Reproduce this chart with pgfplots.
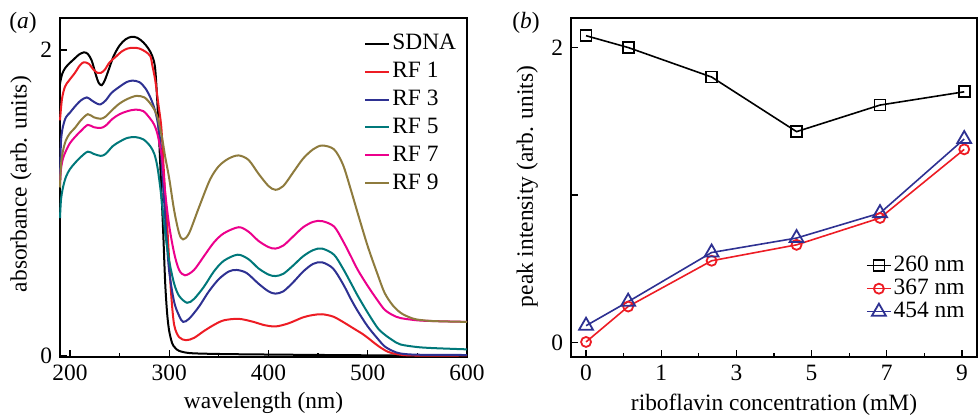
\documentclass[border=0pt]{standalone}
\usepackage{fontspec}
\setmainfont{Liberation Serif}
\usepackage{pgfplots}
\usepackage{pgfplotstable}
\pgfplotsset{compat=1.18}

\definecolor{cred}{HTML}{ED1C24}
\definecolor{cblue}{HTML}{2E3192}
\definecolor{cteal}{HTML}{00787A}
\definecolor{cmag}{HTML}{EC008C}
\definecolor{colive}{HTML}{8E7B3D}

\pgfplotstableread{
x y
190 1.78
192 1.84
195 1.88
199 1.91
204 1.94
209 1.97
214 1.985
218 1.975
222 1.93
226 1.84
229 1.785
232 1.77
235 1.80
239 1.87
244 1.96
250 2.03
256 2.07
262 2.087
268 2.08
274 2.05
279 2.01
283 1.96
286 1.87
289 1.54
292 1.10
294 0.80
296 0.47
298 0.27
300 0.16
303 0.08
306 0.05
310 0.03
320 0.016
340 0.011
370 0.008
420 0.005
480 0.002
540 0.0
600 0.0
}\sdna

\pgfplotstableread{
x y
190 1.54
192 1.68
195 1.76
199 1.80
205 1.85
210 1.90
214 1.92
219 1.91
224 1.87
228 1.85
231 1.85
235 1.87
240 1.92
246 1.955
252 1.99
258 2.01
264 2.015
270 2.01
276 1.99
281 1.96
283 1.90
286 1.80
289 1.65
292 1.50
294 1.28
296 1.05
298 0.85
300 0.62
302 0.40
305 0.20
310 0.12
317 0.10
325 0.115
335 0.16
345 0.20
355 0.23
370 0.24
385 0.22
395 0.20
407 0.19
420 0.21
435 0.25
445 0.265
454 0.27
465 0.255
475 0.22
485 0.18
495 0.14
500 0.116
510 0.065
520 0.025
530 0.008
545 0.0
600 0.0
}\rfone

\pgfplotstableread{
x y
190 1.15
191 1.40
193 1.50
196 1.56
200 1.59
205 1.63
211 1.67
217 1.69
222 1.67
227 1.65
231 1.645
236 1.67
242 1.72
250 1.76
257 1.79
263 1.80
270 1.79
276 1.75
281 1.69
285 1.62
288 1.54
291 1.40
293 1.20
295 1.00
297 0.80
300 0.55
305 0.35
310 0.26
314 0.22
320 0.24
330 0.32
340 0.42
350 0.50
360 0.55
368 0.56
378 0.54
390 0.47
400 0.42
407 0.405
415 0.42
425 0.48
435 0.55
445 0.60
454 0.61
465 0.57
475 0.47
483 0.37
490 0.29
500 0.19
510 0.11
517 0.06
525 0.03
533 0.013
550 0.005
600 0.003
}\rfthree

\pgfplotstableread{
x y
190 0.90
191 1.02
193 1.10
196 1.17
200 1.22
205 1.26
211 1.30
218 1.335
224 1.32
231 1.307
236 1.32
243 1.37
250 1.40
258 1.425
266 1.43
274 1.415
281 1.37
285 1.32
288 1.24
291 1.10
293 0.98
296 0.80
300 0.62
305 0.47
310 0.39
318 0.345
325 0.37
335 0.45
345 0.55
355 0.62
369 0.66
380 0.63
390 0.57
400 0.53
407 0.52
415 0.535
425 0.59
435 0.65
445 0.69
454 0.70
466 0.66
475 0.57
483 0.475
490 0.39
500 0.28
510 0.18
517 0.137
525 0.10
533 0.072
550 0.055
567 0.048
600 0.04
}\rffive

\pgfplotstableread{
x y
190 1.12
191 1.22
193 1.29
196 1.34
200 1.39
205 1.43
211 1.47
218 1.51
224 1.495
231 1.49
236 1.505
243 1.55
250 1.58
258 1.60
266 1.61
274 1.60
281 1.55
285 1.51
288 1.455
291 1.36
293 1.28
296 1.065
300 0.85
305 0.67
310 0.56
316 0.525
325 0.56
335 0.65
345 0.74
355 0.80
370 0.84
380 0.81
390 0.75
400 0.71
407 0.70
415 0.72
425 0.78
435 0.84
445 0.875
454 0.88
466 0.845
475 0.75
483 0.65
490 0.56
500 0.455
510 0.36
517 0.30
525 0.265
533 0.245
550 0.23
567 0.225
600 0.22
}\rfseven

\pgfplotstableread{
x y
190 1.10
191 1.25
193 1.34
196 1.41
200 1.455
205 1.49
211 1.54
218 1.58
224 1.56
231 1.55
236 1.565
243 1.61
250 1.65
258 1.68
267 1.70
275 1.69
281 1.65
285 1.61
288 1.565
291 1.48
293 1.42
296 1.30
300 1.16
305 0.95
310 0.80
314 0.76
320 0.80
330 0.97
341 1.15
350 1.24
360 1.29
370 1.31
380 1.28
390 1.19
400 1.11
407 1.085
415 1.11
425 1.20
435 1.29
445 1.35
454 1.375
466 1.35
475 1.25
483 1.085
490 0.93
500 0.715
510 0.53
517 0.41
525 0.33
533 0.28
542 0.25
550 0.235
567 0.225
600 0.22
}\rfnine

\pgfplotstableread{
x a b c
0    2.08 0.005 0.115
0.56 2.00 0.245 0.278
1.67 1.80 0.555 0.611
2.80 1.43 0.663 0.709
3.91 1.61 0.845 0.878
5.03 1.70 1.31  1.38
}\peaks

\begin{document}
\fontsize{23.5}{28}\selectfont
\begin{tikzpicture}
\useasboundingbox (0,0) rectangle (980bp,420bp);
\pgfplotsset{
  every axis/.append style={font=\fontsize{23.5}{28}\selectfont},
  /pgf/number format/assume math mode=true,
  scale only axis,
  clip=false,
  axis line style={line width=1.8bp, black},
  tick align=inside,
  xtick pos=left, ytick pos=left,
  major tick length=7bp, minor tick length=4bp,
  every tick/.style={line width=1.3bp, black},
  tick label style={font=\fontsize{23.5}{28}\selectfont},
  legend cell align=left,
}
% ---------- panel (a)
\begin{axis}[
  at={(60bp,63bp)}, anchor=south west,
  width=407bp, height=339bp,
  xmin=190, xmax=600, ymin=-0.01, ymax=2.21,
  xtick={200,300,400,500,600},
  minor xtick={250,350,450,550},
  ytick={0,2},
  xlabel={wavelength (nm)},
  ylabel={absorbance (arb. units)},
  xlabel style={at={(axis description cs:0.5,-0.136)}, anchor=center},
  ylabel style={at={(axis description cs:-0.096,0.51)}, anchor=center},
  legend style={at={(axis description cs:0.74,0.965)}, anchor=north west,
    draw=none, fill=none, row sep=5bp, nodes={inner sep=2bp}},
  legend image code/.code={\draw[#1, line width=2bp] (0bp,0bp) -- (24bp,0bp);},
  every axis plot/.append style={line width=2bp, smooth, tension=0.5},
]
\addplot[black] table[x=x,y=y] {\sdna};
\addlegendentry{SDNA}
\addplot[cred] table[x=x,y=y] {\rfone};
\addlegendentry{RF 1}
\addplot[cblue] table[x=x,y=y] {\rfthree};
\addlegendentry{RF 3}
\addplot[cteal] table[x=x,y=y] {\rffive};
\addlegendentry{RF 5}
\addplot[cmag] table[x=x,y=y] {\rfseven};
\addlegendentry{RF 7}
\addplot[colive] table[x=x,y=y] {\rfnine};
\addlegendentry{RF 9}
\node[anchor=center] at (axis description cs:-0.091,0.985) {(\textit{a})};
\end{axis}
% ---------- panel (b)
\begin{axis}[
  at={(571bp,63bp)}, anchor=south west,
  width=406bp, height=339bp,
  xmin=-0.2, xmax=5.2, ymin=-0.097, ymax=2.2,
  xtick={0,1,2,3,4,5},
  xticklabels={0,1,3,5,7,9},
  minor xtick={0.5,1.5,2.5,3.5,4.5},
  ytick={0,1,2},
  yticklabels={0,,2},
  xlabel={riboflavin concentration (mM)},
  ylabel={peak intensity (arb. units)},
  xlabel style={at={(axis description cs:0.5,-0.142)}, anchor=center},
  ylabel style={at={(axis description cs:-0.108,0.503)}, anchor=center},
  legend style={at={(axis description cs:0.719,0.31)}, anchor=north west,
    draw=none, fill=none, row sep=0bp, nodes={inner sep=2bp}},
  legend image code/.code={\draw[mark repeat=2, mark phase=2, #1] plot coordinates {(0bp,0bp) (12bp,0bp) (24bp,0bp)};},
  every axis plot/.append style={line width=1.6bp},
]
\addplot[black, mark=square, mark size=5.5bp, mark options={fill=white, solid, line width=1.8bp}] table[x=x,y=a] {\peaks};
\addlegendentry{260 nm}
\addplot[cred, mark=o, mark size=5bp, mark options={fill=white, solid, line width=1.8bp}] table[x=x,y=b] {\peaks};
\addlegendentry{367 nm}
\addplot[cblue, mark=triangle, mark size=8bp, mark options={fill=white, solid, line width=1.8bp}] table[x=x,y=c] {\peaks};
\addlegendentry{454 nm}
\node[anchor=center] at (axis description cs:-0.111,0.985) {(\textit{b})};
\end{axis}
\end{tikzpicture}
\end{document}
